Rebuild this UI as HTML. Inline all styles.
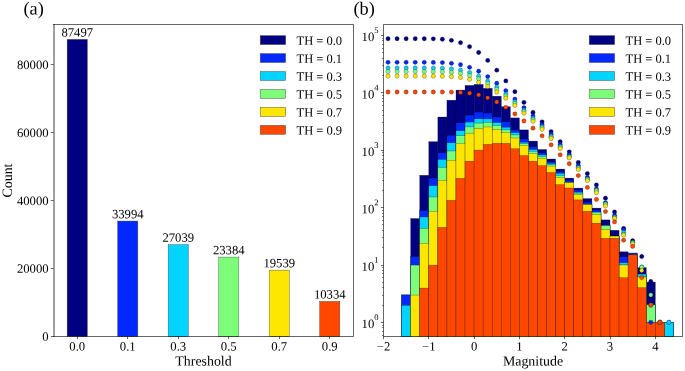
<!DOCTYPE html>
<html><head><meta charset="utf-8"><style>
html,body{margin:0;padding:0;background:#fff;width:685px;height:371px;overflow:hidden}
svg{display:block;will-change:transform}
text{font-family:"Liberation Serif", serif;fill:#000}
</style></head><body>
<svg width="685" height="371" viewBox="0 0 685 371">
<rect width="685" height="371" fill="#fff"/>
<rect x="67.14" y="39.36" width="20.2" height="297.14" fill="#000080" stroke="#444" stroke-width="0.4"/>
<text transform="translate(77.24,36.46) rotate(0.1)" font-size="12.7" text-anchor="middle">87497</text>
<rect x="117.64" y="221.06" width="20.2" height="115.44" fill="#0028ff" stroke="#444" stroke-width="0.4"/>
<text transform="translate(127.74,218.16) rotate(0.1)" font-size="12.7" text-anchor="middle">33994</text>
<rect x="168.15" y="244.67" width="20.2" height="91.83" fill="#00d4ff" stroke="#444" stroke-width="0.4"/>
<text transform="translate(178.25,241.77) rotate(0.1)" font-size="12.7" text-anchor="middle">27039</text>
<rect x="218.65" y="257.09" width="20.2" height="79.41" fill="#7dff7a" stroke="#444" stroke-width="0.4"/>
<text transform="translate(228.75,254.19) rotate(0.1)" font-size="12.7" text-anchor="middle">23384</text>
<rect x="269.16" y="270.14" width="20.2" height="66.36" fill="#ffe600" stroke="#444" stroke-width="0.4"/>
<text transform="translate(279.26,267.24) rotate(0.1)" font-size="12.7" text-anchor="middle">19539</text>
<rect x="319.66" y="301.41" width="20.2" height="35.09" fill="#ff4700" stroke="#444" stroke-width="0.4"/>
<text transform="translate(329.76,298.51) rotate(0.1)" font-size="12.7" text-anchor="middle">10334</text>
<path d="M53.5 24.5H353.5V336.5H53.5" fill="none" stroke="#000" stroke-opacity="0.6" stroke-width="1.0" stroke-linecap="square"/>
<line x1="54" y1="24.0" x2="54" y2="337.0" stroke="#000" stroke-opacity="0.75" stroke-width="1"/>
<line x1="50.9" y1="336.5" x2="53.5" y2="336.5" stroke="#000" stroke-opacity="0.6" stroke-width="1"/>
<text transform="translate(48.6,340.8) rotate(0.1)" font-size="12.7" text-anchor="end">0</text>
<line x1="50.9" y1="268.5" x2="53.5" y2="268.5" stroke="#000" stroke-opacity="0.6" stroke-width="1"/>
<text transform="translate(48.6,272.88) rotate(0.1)" font-size="12.7" text-anchor="end">20000</text>
<line x1="50.9" y1="200.5" x2="53.5" y2="200.5" stroke="#000" stroke-opacity="0.6" stroke-width="1"/>
<text transform="translate(48.6,204.96) rotate(0.1)" font-size="12.7" text-anchor="end">40000</text>
<line x1="50.9" y1="132.5" x2="53.5" y2="132.5" stroke="#000" stroke-opacity="0.6" stroke-width="1"/>
<text transform="translate(48.6,137.04) rotate(0.1)" font-size="12.7" text-anchor="end">60000</text>
<line x1="50.9" y1="64.5" x2="53.5" y2="64.5" stroke="#000" stroke-opacity="0.6" stroke-width="1"/>
<text transform="translate(48.6,69.12) rotate(0.1)" font-size="12.7" text-anchor="end">80000</text>
<line x1="77.5" y1="336.5" x2="77.5" y2="339.1" stroke="#000" stroke-opacity="0.6" stroke-width="1"/>
<text transform="translate(77.24,350.5) rotate(0.1)" font-size="12.7" text-anchor="middle">0.0</text>
<line x1="127.5" y1="336.5" x2="127.5" y2="339.1" stroke="#000" stroke-opacity="0.6" stroke-width="1"/>
<text transform="translate(127.74,350.5) rotate(0.1)" font-size="12.7" text-anchor="middle">0.1</text>
<line x1="178.5" y1="336.5" x2="178.5" y2="339.1" stroke="#000" stroke-opacity="0.6" stroke-width="1"/>
<text transform="translate(178.25,350.5) rotate(0.1)" font-size="12.7" text-anchor="middle">0.3</text>
<line x1="228.5" y1="336.5" x2="228.5" y2="339.1" stroke="#000" stroke-opacity="0.6" stroke-width="1"/>
<text transform="translate(228.75,350.5) rotate(0.1)" font-size="12.7" text-anchor="middle">0.5</text>
<line x1="279.5" y1="336.5" x2="279.5" y2="339.1" stroke="#000" stroke-opacity="0.6" stroke-width="1"/>
<text transform="translate(279.26,350.5) rotate(0.1)" font-size="12.7" text-anchor="middle">0.7</text>
<line x1="329.5" y1="336.5" x2="329.5" y2="339.1" stroke="#000" stroke-opacity="0.6" stroke-width="1"/>
<text transform="translate(329.76,350.5) rotate(0.1)" font-size="12.7" text-anchor="middle">0.9</text>
<text transform="translate(203.5,365.5) rotate(0.1)" font-size="13.9" text-anchor="middle">Threshold</text>
<text transform="translate(11.9,180.5) rotate(-89.9)" font-size="13.9" text-anchor="middle">Count</text>
<text transform="translate(23.5,14.5) rotate(0.1)" font-size="18.3">(a)</text>
<rect x="260.2" y="35.6" width="25.5" height="9.0" fill="#000080" stroke="#555" stroke-width="0.5"/>
<text transform="translate(296.5,44.7) rotate(0.1)" font-size="12.5">TH = 0.0</text>
<rect x="260.2" y="53.55" width="25.5" height="9.0" fill="#0028ff" stroke="#555" stroke-width="0.5"/>
<text transform="translate(296.5,62.65) rotate(0.1)" font-size="12.5">TH = 0.1</text>
<rect x="260.2" y="71.5" width="25.5" height="9.0" fill="#00d4ff" stroke="#555" stroke-width="0.5"/>
<text transform="translate(296.5,80.6) rotate(0.1)" font-size="12.5">TH = 0.3</text>
<rect x="260.2" y="89.45" width="25.5" height="9.0" fill="#7dff7a" stroke="#555" stroke-width="0.5"/>
<text transform="translate(296.5,98.55) rotate(0.1)" font-size="12.5">TH = 0.5</text>
<rect x="260.2" y="107.4" width="25.5" height="9.0" fill="#ffe600" stroke="#555" stroke-width="0.5"/>
<text transform="translate(296.5,116.5) rotate(0.1)" font-size="12.5">TH = 0.7</text>
<rect x="260.2" y="125.35" width="25.5" height="9.0" fill="#ff4700" stroke="#555" stroke-width="0.5"/>
<text transform="translate(296.5,134.45) rotate(0.1)" font-size="12.5">TH = 0.9</text>
<defs><clipPath id="cb"><rect x="383.5" y="24.5" width="299.0" height="312.0"/></clipPath></defs>
<g clip-path="url(#cb)">
<rect x="401.62" y="294.9" width="9.06" height="43.6" fill="#000080" stroke="#000" stroke-opacity="0.55" stroke-width="0.45"/>
<rect x="410.68" y="218.5" width="9.06" height="120" fill="#000080" stroke="#000" stroke-opacity="0.55" stroke-width="0.45"/>
<rect x="419.74" y="175.3" width="9.06" height="163.2" fill="#000080" stroke="#000" stroke-opacity="0.55" stroke-width="0.45"/>
<rect x="428.8" y="141.7" width="9.06" height="196.8" fill="#000080" stroke="#000" stroke-opacity="0.55" stroke-width="0.45"/>
<rect x="437.86" y="117" width="9.06" height="221.5" fill="#000080" stroke="#000" stroke-opacity="0.55" stroke-width="0.45"/>
<rect x="446.92" y="100.2" width="9.06" height="238.3" fill="#000080" stroke="#000" stroke-opacity="0.55" stroke-width="0.45"/>
<rect x="455.98" y="90.1" width="9.06" height="248.4" fill="#000080" stroke="#000" stroke-opacity="0.55" stroke-width="0.45"/>
<rect x="465.05" y="85.4" width="9.06" height="253.1" fill="#000080" stroke="#000" stroke-opacity="0.55" stroke-width="0.45"/>
<rect x="474.11" y="84.4" width="9.06" height="254.1" fill="#000080" stroke="#000" stroke-opacity="0.55" stroke-width="0.45"/>
<rect x="483.17" y="88.3" width="9.06" height="250.2" fill="#000080" stroke="#000" stroke-opacity="0.55" stroke-width="0.45"/>
<rect x="492.23" y="96.2" width="9.06" height="242.3" fill="#000080" stroke="#000" stroke-opacity="0.55" stroke-width="0.45"/>
<rect x="501.29" y="106.7" width="9.06" height="231.8" fill="#000080" stroke="#000" stroke-opacity="0.55" stroke-width="0.45"/>
<rect x="510.35" y="117.9" width="9.06" height="220.6" fill="#000080" stroke="#000" stroke-opacity="0.55" stroke-width="0.45"/>
<rect x="519.41" y="129.9" width="9.06" height="208.6" fill="#000080" stroke="#000" stroke-opacity="0.55" stroke-width="0.45"/>
<rect x="528.47" y="141.1" width="9.06" height="197.4" fill="#000080" stroke="#000" stroke-opacity="0.55" stroke-width="0.45"/>
<rect x="537.53" y="149.5" width="9.06" height="189" fill="#000080" stroke="#000" stroke-opacity="0.55" stroke-width="0.45"/>
<rect x="546.59" y="159" width="9.06" height="179.5" fill="#000080" stroke="#000" stroke-opacity="0.55" stroke-width="0.45"/>
<rect x="555.65" y="169.1" width="9.06" height="169.4" fill="#000080" stroke="#000" stroke-opacity="0.55" stroke-width="0.45"/>
<rect x="564.71" y="178.1" width="9.06" height="160.4" fill="#000080" stroke="#000" stroke-opacity="0.55" stroke-width="0.45"/>
<rect x="573.77" y="188.1" width="9.06" height="150.4" fill="#000080" stroke="#000" stroke-opacity="0.55" stroke-width="0.45"/>
<rect x="582.83" y="198.6" width="9.06" height="139.9" fill="#000080" stroke="#000" stroke-opacity="0.55" stroke-width="0.45"/>
<rect x="591.89" y="208.1" width="9.06" height="130.4" fill="#000080" stroke="#000" stroke-opacity="0.55" stroke-width="0.45"/>
<rect x="600.95" y="219.9" width="9.06" height="118.6" fill="#000080" stroke="#000" stroke-opacity="0.55" stroke-width="0.45"/>
<rect x="610.02" y="230.3" width="9.06" height="108.2" fill="#000080" stroke="#000" stroke-opacity="0.55" stroke-width="0.45"/>
<rect x="619.08" y="251.8" width="9.06" height="86.7" fill="#000080" stroke="#000" stroke-opacity="0.55" stroke-width="0.45"/>
<rect x="628.14" y="253.1" width="9.06" height="85.4" fill="#000080" stroke="#000" stroke-opacity="0.55" stroke-width="0.45"/>
<rect x="637.2" y="267.6" width="9.06" height="70.9" fill="#000080" stroke="#000" stroke-opacity="0.55" stroke-width="0.45"/>
<rect x="646.26" y="282.1" width="9.06" height="56.4" fill="#000080" stroke="#000" stroke-opacity="0.55" stroke-width="0.45"/>
<rect x="655.32" y="322.3" width="9.06" height="16.2" fill="#000080" stroke="#000" stroke-opacity="0.55" stroke-width="0.45"/>
<rect x="664.38" y="322.3" width="9.06" height="16.2" fill="#000080" stroke="#000" stroke-opacity="0.55" stroke-width="0.45"/>
<rect x="401.62" y="294.9" width="9.06" height="43.6" fill="#0028ff" stroke="#000" stroke-opacity="0.55" stroke-width="0.45"/>
<rect x="410.68" y="256.6" width="9.06" height="81.9" fill="#0028ff" stroke="#000" stroke-opacity="0.55" stroke-width="0.45"/>
<rect x="419.74" y="210.4" width="9.06" height="128.1" fill="#0028ff" stroke="#000" stroke-opacity="0.55" stroke-width="0.45"/>
<rect x="428.8" y="178.1" width="9.06" height="160.4" fill="#0028ff" stroke="#000" stroke-opacity="0.55" stroke-width="0.45"/>
<rect x="437.86" y="152.7" width="9.06" height="185.8" fill="#0028ff" stroke="#000" stroke-opacity="0.55" stroke-width="0.45"/>
<rect x="446.92" y="135.2" width="9.06" height="203.3" fill="#0028ff" stroke="#000" stroke-opacity="0.55" stroke-width="0.45"/>
<rect x="455.98" y="122.8" width="9.06" height="215.7" fill="#0028ff" stroke="#000" stroke-opacity="0.55" stroke-width="0.45"/>
<rect x="465.05" y="115.1" width="9.06" height="223.4" fill="#0028ff" stroke="#000" stroke-opacity="0.55" stroke-width="0.45"/>
<rect x="474.11" y="112.1" width="9.06" height="226.4" fill="#0028ff" stroke="#000" stroke-opacity="0.55" stroke-width="0.45"/>
<rect x="483.17" y="113" width="9.06" height="225.5" fill="#0028ff" stroke="#000" stroke-opacity="0.55" stroke-width="0.45"/>
<rect x="492.23" y="117" width="9.06" height="221.5" fill="#0028ff" stroke="#000" stroke-opacity="0.55" stroke-width="0.45"/>
<rect x="501.29" y="121.8" width="9.06" height="216.7" fill="#0028ff" stroke="#000" stroke-opacity="0.55" stroke-width="0.45"/>
<rect x="510.35" y="129.9" width="9.06" height="208.6" fill="#0028ff" stroke="#000" stroke-opacity="0.55" stroke-width="0.45"/>
<rect x="519.41" y="139" width="9.06" height="199.5" fill="#0028ff" stroke="#000" stroke-opacity="0.55" stroke-width="0.45"/>
<rect x="528.47" y="146.6" width="9.06" height="191.9" fill="#0028ff" stroke="#000" stroke-opacity="0.55" stroke-width="0.45"/>
<rect x="537.53" y="152.9" width="9.06" height="185.6" fill="#0028ff" stroke="#000" stroke-opacity="0.55" stroke-width="0.45"/>
<rect x="546.59" y="161.7" width="9.06" height="176.8" fill="#0028ff" stroke="#000" stroke-opacity="0.55" stroke-width="0.45"/>
<rect x="555.65" y="171.3" width="9.06" height="167.2" fill="#0028ff" stroke="#000" stroke-opacity="0.55" stroke-width="0.45"/>
<rect x="564.71" y="180.2" width="9.06" height="158.3" fill="#0028ff" stroke="#000" stroke-opacity="0.55" stroke-width="0.45"/>
<rect x="573.77" y="190" width="9.06" height="148.5" fill="#0028ff" stroke="#000" stroke-opacity="0.55" stroke-width="0.45"/>
<rect x="582.83" y="202.2" width="9.06" height="136.3" fill="#0028ff" stroke="#000" stroke-opacity="0.55" stroke-width="0.45"/>
<rect x="591.89" y="210" width="9.06" height="128.5" fill="#0028ff" stroke="#000" stroke-opacity="0.55" stroke-width="0.45"/>
<rect x="600.95" y="225.6" width="9.06" height="112.9" fill="#0028ff" stroke="#000" stroke-opacity="0.55" stroke-width="0.45"/>
<rect x="610.02" y="236.1" width="9.06" height="102.4" fill="#0028ff" stroke="#000" stroke-opacity="0.55" stroke-width="0.45"/>
<rect x="619.08" y="256.7" width="9.06" height="81.8" fill="#0028ff" stroke="#000" stroke-opacity="0.55" stroke-width="0.45"/>
<rect x="628.14" y="253.1" width="9.06" height="85.4" fill="#0028ff" stroke="#000" stroke-opacity="0.55" stroke-width="0.45"/>
<rect x="637.2" y="274.1" width="9.06" height="64.4" fill="#0028ff" stroke="#000" stroke-opacity="0.55" stroke-width="0.45"/>
<rect x="646.26" y="304.8" width="9.06" height="33.7" fill="#0028ff" stroke="#000" stroke-opacity="0.55" stroke-width="0.45"/>
<rect x="655.32" y="322.3" width="9.06" height="16.2" fill="#0028ff" stroke="#000" stroke-opacity="0.55" stroke-width="0.45"/>
<rect x="664.38" y="322.3" width="9.06" height="16.2" fill="#0028ff" stroke="#000" stroke-opacity="0.55" stroke-width="0.45"/>
<rect x="401.62" y="305.3" width="9.06" height="33.2" fill="#00d4ff" stroke="#000" stroke-opacity="0.55" stroke-width="0.45"/>
<rect x="410.68" y="265.1" width="9.06" height="73.4" fill="#00d4ff" stroke="#000" stroke-opacity="0.55" stroke-width="0.45"/>
<rect x="419.74" y="217" width="9.06" height="121.5" fill="#00d4ff" stroke="#000" stroke-opacity="0.55" stroke-width="0.45"/>
<rect x="428.8" y="185.7" width="9.06" height="152.8" fill="#00d4ff" stroke="#000" stroke-opacity="0.55" stroke-width="0.45"/>
<rect x="437.86" y="159.4" width="9.06" height="179.1" fill="#00d4ff" stroke="#000" stroke-opacity="0.55" stroke-width="0.45"/>
<rect x="446.92" y="142.8" width="9.06" height="195.7" fill="#00d4ff" stroke="#000" stroke-opacity="0.55" stroke-width="0.45"/>
<rect x="455.98" y="130.7" width="9.06" height="207.8" fill="#00d4ff" stroke="#000" stroke-opacity="0.55" stroke-width="0.45"/>
<rect x="465.05" y="122.1" width="9.06" height="216.4" fill="#00d4ff" stroke="#000" stroke-opacity="0.55" stroke-width="0.45"/>
<rect x="474.11" y="118.8" width="9.06" height="219.7" fill="#00d4ff" stroke="#000" stroke-opacity="0.55" stroke-width="0.45"/>
<rect x="483.17" y="118.9" width="9.06" height="219.6" fill="#00d4ff" stroke="#000" stroke-opacity="0.55" stroke-width="0.45"/>
<rect x="492.23" y="122.5" width="9.06" height="216" fill="#00d4ff" stroke="#000" stroke-opacity="0.55" stroke-width="0.45"/>
<rect x="501.29" y="127.2" width="9.06" height="211.3" fill="#00d4ff" stroke="#000" stroke-opacity="0.55" stroke-width="0.45"/>
<rect x="510.35" y="132.6" width="9.06" height="205.9" fill="#00d4ff" stroke="#000" stroke-opacity="0.55" stroke-width="0.45"/>
<rect x="519.41" y="142.2" width="9.06" height="196.3" fill="#00d4ff" stroke="#000" stroke-opacity="0.55" stroke-width="0.45"/>
<rect x="528.47" y="149.5" width="9.06" height="189" fill="#00d4ff" stroke="#000" stroke-opacity="0.55" stroke-width="0.45"/>
<rect x="537.53" y="154.9" width="9.06" height="183.6" fill="#00d4ff" stroke="#000" stroke-opacity="0.55" stroke-width="0.45"/>
<rect x="546.59" y="163.4" width="9.06" height="175.1" fill="#00d4ff" stroke="#000" stroke-opacity="0.55" stroke-width="0.45"/>
<rect x="555.65" y="173.3" width="9.06" height="165.2" fill="#00d4ff" stroke="#000" stroke-opacity="0.55" stroke-width="0.45"/>
<rect x="564.71" y="182.6" width="9.06" height="155.9" fill="#00d4ff" stroke="#000" stroke-opacity="0.55" stroke-width="0.45"/>
<rect x="573.77" y="192.1" width="9.06" height="146.4" fill="#00d4ff" stroke="#000" stroke-opacity="0.55" stroke-width="0.45"/>
<rect x="582.83" y="204.6" width="9.06" height="133.9" fill="#00d4ff" stroke="#000" stroke-opacity="0.55" stroke-width="0.45"/>
<rect x="591.89" y="212.2" width="9.06" height="126.3" fill="#00d4ff" stroke="#000" stroke-opacity="0.55" stroke-width="0.45"/>
<rect x="600.95" y="225.6" width="9.06" height="112.9" fill="#00d4ff" stroke="#000" stroke-opacity="0.55" stroke-width="0.45"/>
<rect x="610.02" y="236.1" width="9.06" height="102.4" fill="#00d4ff" stroke="#000" stroke-opacity="0.55" stroke-width="0.45"/>
<rect x="619.08" y="262.7" width="9.06" height="75.8" fill="#00d4ff" stroke="#000" stroke-opacity="0.55" stroke-width="0.45"/>
<rect x="628.14" y="254.9" width="9.06" height="83.6" fill="#00d4ff" stroke="#000" stroke-opacity="0.55" stroke-width="0.45"/>
<rect x="637.2" y="274.1" width="9.06" height="64.4" fill="#00d4ff" stroke="#000" stroke-opacity="0.55" stroke-width="0.45"/>
<rect x="646.26" y="304.8" width="9.06" height="33.7" fill="#00d4ff" stroke="#000" stroke-opacity="0.55" stroke-width="0.45"/>
<rect x="655.32" y="322.3" width="9.06" height="16.2" fill="#00d4ff" stroke="#000" stroke-opacity="0.55" stroke-width="0.45"/>
<rect x="664.38" y="322.3" width="9.06" height="16.2" fill="#00d4ff" stroke="#000" stroke-opacity="0.55" stroke-width="0.45"/>
<rect x="410.68" y="265.1" width="9.06" height="73.4" fill="#7dff7a" stroke="#000" stroke-opacity="0.55" stroke-width="0.45"/>
<rect x="419.74" y="228.3" width="9.06" height="110.2" fill="#7dff7a" stroke="#000" stroke-opacity="0.55" stroke-width="0.45"/>
<rect x="428.8" y="197" width="9.06" height="141.5" fill="#7dff7a" stroke="#000" stroke-opacity="0.55" stroke-width="0.45"/>
<rect x="437.86" y="167.3" width="9.06" height="171.2" fill="#7dff7a" stroke="#000" stroke-opacity="0.55" stroke-width="0.45"/>
<rect x="446.92" y="151" width="9.06" height="187.5" fill="#7dff7a" stroke="#000" stroke-opacity="0.55" stroke-width="0.45"/>
<rect x="455.98" y="135.7" width="9.06" height="202.8" fill="#7dff7a" stroke="#000" stroke-opacity="0.55" stroke-width="0.45"/>
<rect x="465.05" y="126.9" width="9.06" height="211.6" fill="#7dff7a" stroke="#000" stroke-opacity="0.55" stroke-width="0.45"/>
<rect x="474.11" y="123.1" width="9.06" height="215.4" fill="#7dff7a" stroke="#000" stroke-opacity="0.55" stroke-width="0.45"/>
<rect x="483.17" y="122.4" width="9.06" height="216.1" fill="#7dff7a" stroke="#000" stroke-opacity="0.55" stroke-width="0.45"/>
<rect x="492.23" y="125.5" width="9.06" height="213" fill="#7dff7a" stroke="#000" stroke-opacity="0.55" stroke-width="0.45"/>
<rect x="501.29" y="129.9" width="9.06" height="208.6" fill="#7dff7a" stroke="#000" stroke-opacity="0.55" stroke-width="0.45"/>
<rect x="510.35" y="134.9" width="9.06" height="203.6" fill="#7dff7a" stroke="#000" stroke-opacity="0.55" stroke-width="0.45"/>
<rect x="519.41" y="143.6" width="9.06" height="194.9" fill="#7dff7a" stroke="#000" stroke-opacity="0.55" stroke-width="0.45"/>
<rect x="528.47" y="151.4" width="9.06" height="187.1" fill="#7dff7a" stroke="#000" stroke-opacity="0.55" stroke-width="0.45"/>
<rect x="537.53" y="156.3" width="9.06" height="182.2" fill="#7dff7a" stroke="#000" stroke-opacity="0.55" stroke-width="0.45"/>
<rect x="546.59" y="164.8" width="9.06" height="173.7" fill="#7dff7a" stroke="#000" stroke-opacity="0.55" stroke-width="0.45"/>
<rect x="555.65" y="175.6" width="9.06" height="162.9" fill="#7dff7a" stroke="#000" stroke-opacity="0.55" stroke-width="0.45"/>
<rect x="564.71" y="182.6" width="9.06" height="155.9" fill="#7dff7a" stroke="#000" stroke-opacity="0.55" stroke-width="0.45"/>
<rect x="573.77" y="193.2" width="9.06" height="145.3" fill="#7dff7a" stroke="#000" stroke-opacity="0.55" stroke-width="0.45"/>
<rect x="582.83" y="204.6" width="9.06" height="133.9" fill="#7dff7a" stroke="#000" stroke-opacity="0.55" stroke-width="0.45"/>
<rect x="591.89" y="212.2" width="9.06" height="126.3" fill="#7dff7a" stroke="#000" stroke-opacity="0.55" stroke-width="0.45"/>
<rect x="600.95" y="225.6" width="9.06" height="112.9" fill="#7dff7a" stroke="#000" stroke-opacity="0.55" stroke-width="0.45"/>
<rect x="610.02" y="236.1" width="9.06" height="102.4" fill="#7dff7a" stroke="#000" stroke-opacity="0.55" stroke-width="0.45"/>
<rect x="619.08" y="265" width="9.06" height="73.5" fill="#7dff7a" stroke="#000" stroke-opacity="0.55" stroke-width="0.45"/>
<rect x="628.14" y="254.9" width="9.06" height="83.6" fill="#7dff7a" stroke="#000" stroke-opacity="0.55" stroke-width="0.45"/>
<rect x="637.2" y="276.9" width="9.06" height="61.6" fill="#7dff7a" stroke="#000" stroke-opacity="0.55" stroke-width="0.45"/>
<rect x="646.26" y="304.8" width="9.06" height="33.7" fill="#7dff7a" stroke="#000" stroke-opacity="0.55" stroke-width="0.45"/>
<rect x="655.32" y="322.3" width="9.06" height="16.2" fill="#7dff7a" stroke="#000" stroke-opacity="0.55" stroke-width="0.45"/>
<rect x="410.68" y="295.1" width="9.06" height="43.4" fill="#ffe600" stroke="#000" stroke-opacity="0.55" stroke-width="0.45"/>
<rect x="419.74" y="243.4" width="9.06" height="95.1" fill="#ffe600" stroke="#000" stroke-opacity="0.55" stroke-width="0.45"/>
<rect x="428.8" y="211.3" width="9.06" height="127.2" fill="#ffe600" stroke="#000" stroke-opacity="0.55" stroke-width="0.45"/>
<rect x="437.86" y="180.5" width="9.06" height="158" fill="#ffe600" stroke="#000" stroke-opacity="0.55" stroke-width="0.45"/>
<rect x="446.92" y="160.3" width="9.06" height="178.2" fill="#ffe600" stroke="#000" stroke-opacity="0.55" stroke-width="0.45"/>
<rect x="455.98" y="143.8" width="9.06" height="194.7" fill="#ffe600" stroke="#000" stroke-opacity="0.55" stroke-width="0.45"/>
<rect x="465.05" y="133.2" width="9.06" height="205.3" fill="#ffe600" stroke="#000" stroke-opacity="0.55" stroke-width="0.45"/>
<rect x="474.11" y="128.5" width="9.06" height="210" fill="#ffe600" stroke="#000" stroke-opacity="0.55" stroke-width="0.45"/>
<rect x="483.17" y="127" width="9.06" height="211.5" fill="#ffe600" stroke="#000" stroke-opacity="0.55" stroke-width="0.45"/>
<rect x="492.23" y="129.4" width="9.06" height="209.1" fill="#ffe600" stroke="#000" stroke-opacity="0.55" stroke-width="0.45"/>
<rect x="501.29" y="132.6" width="9.06" height="205.9" fill="#ffe600" stroke="#000" stroke-opacity="0.55" stroke-width="0.45"/>
<rect x="510.35" y="138" width="9.06" height="200.5" fill="#ffe600" stroke="#000" stroke-opacity="0.55" stroke-width="0.45"/>
<rect x="519.41" y="145.4" width="9.06" height="193.1" fill="#ffe600" stroke="#000" stroke-opacity="0.55" stroke-width="0.45"/>
<rect x="528.47" y="153.6" width="9.06" height="184.9" fill="#ffe600" stroke="#000" stroke-opacity="0.55" stroke-width="0.45"/>
<rect x="537.53" y="158.3" width="9.06" height="180.2" fill="#ffe600" stroke="#000" stroke-opacity="0.55" stroke-width="0.45"/>
<rect x="546.59" y="166.1" width="9.06" height="172.4" fill="#ffe600" stroke="#000" stroke-opacity="0.55" stroke-width="0.45"/>
<rect x="555.65" y="177.6" width="9.06" height="160.9" fill="#ffe600" stroke="#000" stroke-opacity="0.55" stroke-width="0.45"/>
<rect x="564.71" y="182.6" width="9.06" height="155.9" fill="#ffe600" stroke="#000" stroke-opacity="0.55" stroke-width="0.45"/>
<rect x="573.77" y="194.8" width="9.06" height="143.7" fill="#ffe600" stroke="#000" stroke-opacity="0.55" stroke-width="0.45"/>
<rect x="582.83" y="204.6" width="9.06" height="133.9" fill="#ffe600" stroke="#000" stroke-opacity="0.55" stroke-width="0.45"/>
<rect x="591.89" y="214.7" width="9.06" height="123.8" fill="#ffe600" stroke="#000" stroke-opacity="0.55" stroke-width="0.45"/>
<rect x="600.95" y="229.3" width="9.06" height="109.2" fill="#ffe600" stroke="#000" stroke-opacity="0.55" stroke-width="0.45"/>
<rect x="610.02" y="236.1" width="9.06" height="102.4" fill="#ffe600" stroke="#000" stroke-opacity="0.55" stroke-width="0.45"/>
<rect x="619.08" y="265" width="9.06" height="73.5" fill="#ffe600" stroke="#000" stroke-opacity="0.55" stroke-width="0.45"/>
<rect x="628.14" y="254.9" width="9.06" height="83.6" fill="#ffe600" stroke="#000" stroke-opacity="0.55" stroke-width="0.45"/>
<rect x="637.2" y="276.9" width="9.06" height="61.6" fill="#ffe600" stroke="#000" stroke-opacity="0.55" stroke-width="0.45"/>
<rect x="646.26" y="322.3" width="9.06" height="16.2" fill="#ffe600" stroke="#000" stroke-opacity="0.55" stroke-width="0.45"/>
<rect x="655.32" y="322.3" width="9.06" height="16.2" fill="#ffe600" stroke="#000" stroke-opacity="0.55" stroke-width="0.45"/>
<rect x="419.74" y="288.1" width="9.06" height="50.4" fill="#ff4700" stroke="#000" stroke-opacity="0.55" stroke-width="0.45"/>
<rect x="428.8" y="265.1" width="9.06" height="73.4" fill="#ff4700" stroke="#000" stroke-opacity="0.55" stroke-width="0.45"/>
<rect x="437.86" y="227.4" width="9.06" height="111.1" fill="#ff4700" stroke="#000" stroke-opacity="0.55" stroke-width="0.45"/>
<rect x="446.92" y="200.4" width="9.06" height="138.1" fill="#ff4700" stroke="#000" stroke-opacity="0.55" stroke-width="0.45"/>
<rect x="455.98" y="178.4" width="9.06" height="160.1" fill="#ff4700" stroke="#000" stroke-opacity="0.55" stroke-width="0.45"/>
<rect x="465.05" y="161.2" width="9.06" height="177.3" fill="#ff4700" stroke="#000" stroke-opacity="0.55" stroke-width="0.45"/>
<rect x="474.11" y="150.1" width="9.06" height="188.4" fill="#ff4700" stroke="#000" stroke-opacity="0.55" stroke-width="0.45"/>
<rect x="483.17" y="144.4" width="9.06" height="194.1" fill="#ff4700" stroke="#000" stroke-opacity="0.55" stroke-width="0.45"/>
<rect x="492.23" y="143.4" width="9.06" height="195.1" fill="#ff4700" stroke="#000" stroke-opacity="0.55" stroke-width="0.45"/>
<rect x="501.29" y="143.4" width="9.06" height="195.1" fill="#ff4700" stroke="#000" stroke-opacity="0.55" stroke-width="0.45"/>
<rect x="510.35" y="148.8" width="9.06" height="189.7" fill="#ff4700" stroke="#000" stroke-opacity="0.55" stroke-width="0.45"/>
<rect x="519.41" y="155.6" width="9.06" height="182.9" fill="#ff4700" stroke="#000" stroke-opacity="0.55" stroke-width="0.45"/>
<rect x="528.47" y="161.3" width="9.06" height="177.2" fill="#ff4700" stroke="#000" stroke-opacity="0.55" stroke-width="0.45"/>
<rect x="537.53" y="165.7" width="9.06" height="172.8" fill="#ff4700" stroke="#000" stroke-opacity="0.55" stroke-width="0.45"/>
<rect x="546.59" y="172.5" width="9.06" height="166" fill="#ff4700" stroke="#000" stroke-opacity="0.55" stroke-width="0.45"/>
<rect x="555.65" y="184.7" width="9.06" height="153.8" fill="#ff4700" stroke="#000" stroke-opacity="0.55" stroke-width="0.45"/>
<rect x="564.71" y="188" width="9.06" height="150.5" fill="#ff4700" stroke="#000" stroke-opacity="0.55" stroke-width="0.45"/>
<rect x="573.77" y="199.9" width="9.06" height="138.6" fill="#ff4700" stroke="#000" stroke-opacity="0.55" stroke-width="0.45"/>
<rect x="582.83" y="211.3" width="9.06" height="127.2" fill="#ff4700" stroke="#000" stroke-opacity="0.55" stroke-width="0.45"/>
<rect x="591.89" y="223.2" width="9.06" height="115.3" fill="#ff4700" stroke="#000" stroke-opacity="0.55" stroke-width="0.45"/>
<rect x="600.95" y="238.4" width="9.06" height="100.1" fill="#ff4700" stroke="#000" stroke-opacity="0.55" stroke-width="0.45"/>
<rect x="610.02" y="238.3" width="9.06" height="100.2" fill="#ff4700" stroke="#000" stroke-opacity="0.55" stroke-width="0.45"/>
<rect x="619.08" y="277.7" width="9.06" height="60.8" fill="#ff4700" stroke="#000" stroke-opacity="0.55" stroke-width="0.45"/>
<rect x="628.14" y="254.9" width="9.06" height="83.6" fill="#ff4700" stroke="#000" stroke-opacity="0.55" stroke-width="0.45"/>
<rect x="637.2" y="287.7" width="9.06" height="50.8" fill="#ff4700" stroke="#000" stroke-opacity="0.55" stroke-width="0.45"/>
<rect x="646.26" y="322.3" width="9.06" height="16.2" fill="#ff4700" stroke="#000" stroke-opacity="0.55" stroke-width="0.45"/>
<rect x="655.32" y="322.3" width="9.06" height="16.2" fill="#ff4700" stroke="#000" stroke-opacity="0.55" stroke-width="0.45"/>
<circle cx="388.03" cy="38.73" r="2.15" fill="#000080" stroke="#000" stroke-opacity="0.6" stroke-width="0.45"/>
<circle cx="397.09" cy="38.73" r="2.15" fill="#000080" stroke="#000" stroke-opacity="0.6" stroke-width="0.45"/>
<circle cx="406.15" cy="38.73" r="2.15" fill="#000080" stroke="#000" stroke-opacity="0.6" stroke-width="0.45"/>
<circle cx="415.21" cy="38.73" r="2.15" fill="#000080" stroke="#000" stroke-opacity="0.6" stroke-width="0.45"/>
<circle cx="424.27" cy="38.75" r="2.15" fill="#000080" stroke="#000" stroke-opacity="0.6" stroke-width="0.45"/>
<circle cx="433.33" cy="38.85" r="2.15" fill="#000080" stroke="#000" stroke-opacity="0.6" stroke-width="0.45"/>
<circle cx="442.39" cy="39.25" r="2.15" fill="#000080" stroke="#000" stroke-opacity="0.6" stroke-width="0.45"/>
<circle cx="451.45" cy="40.37" r="2.15" fill="#000080" stroke="#000" stroke-opacity="0.6" stroke-width="0.45"/>
<circle cx="460.52" cy="42.71" r="2.15" fill="#000080" stroke="#000" stroke-opacity="0.6" stroke-width="0.45"/>
<circle cx="469.58" cy="46.66" r="2.15" fill="#000080" stroke="#000" stroke-opacity="0.6" stroke-width="0.45"/>
<circle cx="478.64" cy="52.48" r="2.15" fill="#000080" stroke="#000" stroke-opacity="0.6" stroke-width="0.45"/>
<circle cx="487.7" cy="60.47" r="2.15" fill="#000080" stroke="#000" stroke-opacity="0.6" stroke-width="0.45"/>
<circle cx="496.76" cy="70.22" r="2.15" fill="#000080" stroke="#000" stroke-opacity="0.6" stroke-width="0.45"/>
<circle cx="505.82" cy="80.93" r="2.15" fill="#000080" stroke="#000" stroke-opacity="0.6" stroke-width="0.45"/>
<circle cx="514.88" cy="91.76" r="2.15" fill="#000080" stroke="#000" stroke-opacity="0.6" stroke-width="0.45"/>
<circle cx="523.94" cy="102.41" r="2.15" fill="#000080" stroke="#000" stroke-opacity="0.6" stroke-width="0.45"/>
<circle cx="533" cy="112.38" r="2.15" fill="#000080" stroke="#000" stroke-opacity="0.6" stroke-width="0.45"/>
<circle cx="542.06" cy="121.78" r="2.15" fill="#000080" stroke="#000" stroke-opacity="0.6" stroke-width="0.45"/>
<circle cx="551.12" cy="131.66" r="2.15" fill="#000080" stroke="#000" stroke-opacity="0.6" stroke-width="0.45"/>
<circle cx="560.18" cy="141.74" r="2.15" fill="#000080" stroke="#000" stroke-opacity="0.6" stroke-width="0.45"/>
<circle cx="569.24" cy="151.82" r="2.15" fill="#000080" stroke="#000" stroke-opacity="0.6" stroke-width="0.45"/>
<circle cx="578.3" cy="162.5" r="2.15" fill="#000080" stroke="#000" stroke-opacity="0.6" stroke-width="0.45"/>
<circle cx="587.36" cy="173.55" r="2.15" fill="#000080" stroke="#000" stroke-opacity="0.6" stroke-width="0.45"/>
<circle cx="596.42" cy="184.91" r="2.15" fill="#000080" stroke="#000" stroke-opacity="0.6" stroke-width="0.45"/>
<circle cx="605.48" cy="198.2" r="2.15" fill="#000080" stroke="#000" stroke-opacity="0.6" stroke-width="0.45"/>
<circle cx="614.55" cy="212" r="2.15" fill="#000080" stroke="#000" stroke-opacity="0.6" stroke-width="0.45"/>
<circle cx="623.61" cy="228.3" r="2.15" fill="#000080" stroke="#000" stroke-opacity="0.6" stroke-width="0.45"/>
<circle cx="632.67" cy="240.7" r="2.15" fill="#000080" stroke="#000" stroke-opacity="0.6" stroke-width="0.45"/>
<circle cx="641.73" cy="256.5" r="2.15" fill="#000080" stroke="#000" stroke-opacity="0.6" stroke-width="0.45"/>
<circle cx="650.79" cy="281.5" r="2.15" fill="#000080" stroke="#000" stroke-opacity="0.6" stroke-width="0.45"/>
<circle cx="388.03" cy="62.3" r="2.15" fill="#0028ff" stroke="#000" stroke-opacity="0.6" stroke-width="0.45"/>
<circle cx="397.09" cy="62.3" r="2.15" fill="#0028ff" stroke="#000" stroke-opacity="0.6" stroke-width="0.45"/>
<circle cx="406.15" cy="62.3" r="2.15" fill="#0028ff" stroke="#000" stroke-opacity="0.6" stroke-width="0.45"/>
<circle cx="415.21" cy="62.3" r="2.15" fill="#0028ff" stroke="#000" stroke-opacity="0.6" stroke-width="0.45"/>
<circle cx="424.27" cy="62.31" r="2.15" fill="#0028ff" stroke="#000" stroke-opacity="0.6" stroke-width="0.45"/>
<circle cx="433.33" cy="62.38" r="2.15" fill="#0028ff" stroke="#000" stroke-opacity="0.6" stroke-width="0.45"/>
<circle cx="442.39" cy="62.62" r="2.15" fill="#0028ff" stroke="#000" stroke-opacity="0.6" stroke-width="0.45"/>
<circle cx="451.45" cy="63.3" r="2.15" fill="#0028ff" stroke="#000" stroke-opacity="0.6" stroke-width="0.45"/>
<circle cx="460.52" cy="64.73" r="2.15" fill="#0028ff" stroke="#000" stroke-opacity="0.6" stroke-width="0.45"/>
<circle cx="469.58" cy="67.28" r="2.15" fill="#0028ff" stroke="#000" stroke-opacity="0.6" stroke-width="0.45"/>
<circle cx="478.64" cy="71.24" r="2.15" fill="#0028ff" stroke="#000" stroke-opacity="0.6" stroke-width="0.45"/>
<circle cx="487.7" cy="76.62" r="2.15" fill="#0028ff" stroke="#000" stroke-opacity="0.6" stroke-width="0.45"/>
<circle cx="496.76" cy="83.22" r="2.15" fill="#0028ff" stroke="#000" stroke-opacity="0.6" stroke-width="0.45"/>
<circle cx="505.82" cy="90.65" r="2.15" fill="#0028ff" stroke="#000" stroke-opacity="0.6" stroke-width="0.45"/>
<circle cx="514.88" cy="99.07" r="2.15" fill="#0028ff" stroke="#000" stroke-opacity="0.6" stroke-width="0.45"/>
<circle cx="523.94" cy="107.62" r="2.15" fill="#0028ff" stroke="#000" stroke-opacity="0.6" stroke-width="0.45"/>
<circle cx="533" cy="115.95" r="2.15" fill="#0028ff" stroke="#000" stroke-opacity="0.6" stroke-width="0.45"/>
<circle cx="542.06" cy="124.57" r="2.15" fill="#0028ff" stroke="#000" stroke-opacity="0.6" stroke-width="0.45"/>
<circle cx="551.12" cy="134.22" r="2.15" fill="#0028ff" stroke="#000" stroke-opacity="0.6" stroke-width="0.45"/>
<circle cx="560.18" cy="144.28" r="2.15" fill="#0028ff" stroke="#000" stroke-opacity="0.6" stroke-width="0.45"/>
<circle cx="569.24" cy="154.57" r="2.15" fill="#0028ff" stroke="#000" stroke-opacity="0.6" stroke-width="0.45"/>
<circle cx="578.3" cy="165.6" r="2.15" fill="#0028ff" stroke="#000" stroke-opacity="0.6" stroke-width="0.45"/>
<circle cx="587.36" cy="177.35" r="2.15" fill="#0028ff" stroke="#000" stroke-opacity="0.6" stroke-width="0.45"/>
<circle cx="596.42" cy="188.83" r="2.15" fill="#0028ff" stroke="#000" stroke-opacity="0.6" stroke-width="0.45"/>
<circle cx="605.48" cy="202.75" r="2.15" fill="#0028ff" stroke="#000" stroke-opacity="0.6" stroke-width="0.45"/>
<circle cx="614.55" cy="215.47" r="2.15" fill="#0028ff" stroke="#000" stroke-opacity="0.6" stroke-width="0.45"/>
<circle cx="623.61" cy="229.8" r="2.15" fill="#0028ff" stroke="#000" stroke-opacity="0.6" stroke-width="0.45"/>
<circle cx="632.67" cy="242.3" r="2.15" fill="#0028ff" stroke="#000" stroke-opacity="0.6" stroke-width="0.45"/>
<circle cx="641.73" cy="267.2" r="2.15" fill="#0028ff" stroke="#000" stroke-opacity="0.6" stroke-width="0.45"/>
<circle cx="650.79" cy="322.3" r="2.15" fill="#0028ff" stroke="#000" stroke-opacity="0.6" stroke-width="0.45"/>
<circle cx="659.85" cy="322.3" r="2.15" fill="#0028ff" stroke="#000" stroke-opacity="0.6" stroke-width="0.45"/>
<circle cx="668.91" cy="322.3" r="2.15" fill="#0028ff" stroke="#000" stroke-opacity="0.6" stroke-width="0.45"/>
<circle cx="388.03" cy="68" r="2.15" fill="#00d4ff" stroke="#000" stroke-opacity="0.6" stroke-width="0.45"/>
<circle cx="397.09" cy="68" r="2.15" fill="#00d4ff" stroke="#000" stroke-opacity="0.6" stroke-width="0.45"/>
<circle cx="406.15" cy="68" r="2.15" fill="#00d4ff" stroke="#000" stroke-opacity="0.6" stroke-width="0.45"/>
<circle cx="415.21" cy="68.01" r="2.15" fill="#00d4ff" stroke="#000" stroke-opacity="0.6" stroke-width="0.45"/>
<circle cx="424.27" cy="68.01" r="2.15" fill="#00d4ff" stroke="#000" stroke-opacity="0.6" stroke-width="0.45"/>
<circle cx="433.33" cy="68.08" r="2.15" fill="#00d4ff" stroke="#000" stroke-opacity="0.6" stroke-width="0.45"/>
<circle cx="442.39" cy="68.3" r="2.15" fill="#00d4ff" stroke="#000" stroke-opacity="0.6" stroke-width="0.45"/>
<circle cx="451.45" cy="68.95" r="2.15" fill="#00d4ff" stroke="#000" stroke-opacity="0.6" stroke-width="0.45"/>
<circle cx="460.52" cy="70.26" r="2.15" fill="#00d4ff" stroke="#000" stroke-opacity="0.6" stroke-width="0.45"/>
<circle cx="469.58" cy="72.54" r="2.15" fill="#00d4ff" stroke="#000" stroke-opacity="0.6" stroke-width="0.45"/>
<circle cx="478.64" cy="76.17" r="2.15" fill="#00d4ff" stroke="#000" stroke-opacity="0.6" stroke-width="0.45"/>
<circle cx="487.7" cy="81.09" r="2.15" fill="#00d4ff" stroke="#000" stroke-opacity="0.6" stroke-width="0.45"/>
<circle cx="496.76" cy="87.22" r="2.15" fill="#00d4ff" stroke="#000" stroke-opacity="0.6" stroke-width="0.45"/>
<circle cx="505.82" cy="94.1" r="2.15" fill="#00d4ff" stroke="#000" stroke-opacity="0.6" stroke-width="0.45"/>
<circle cx="514.88" cy="101.72" r="2.15" fill="#00d4ff" stroke="#000" stroke-opacity="0.6" stroke-width="0.45"/>
<circle cx="523.94" cy="110.2" r="2.15" fill="#00d4ff" stroke="#000" stroke-opacity="0.6" stroke-width="0.45"/>
<circle cx="533" cy="118.24" r="2.15" fill="#00d4ff" stroke="#000" stroke-opacity="0.6" stroke-width="0.45"/>
<circle cx="542.06" cy="126.57" r="2.15" fill="#00d4ff" stroke="#000" stroke-opacity="0.6" stroke-width="0.45"/>
<circle cx="551.12" cy="136.18" r="2.15" fill="#00d4ff" stroke="#000" stroke-opacity="0.6" stroke-width="0.45"/>
<circle cx="560.18" cy="146.34" r="2.15" fill="#00d4ff" stroke="#000" stroke-opacity="0.6" stroke-width="0.45"/>
<circle cx="569.24" cy="156.65" r="2.15" fill="#00d4ff" stroke="#000" stroke-opacity="0.6" stroke-width="0.45"/>
<circle cx="578.3" cy="167.5" r="2.15" fill="#00d4ff" stroke="#000" stroke-opacity="0.6" stroke-width="0.45"/>
<circle cx="587.36" cy="179.13" r="2.15" fill="#00d4ff" stroke="#000" stroke-opacity="0.6" stroke-width="0.45"/>
<circle cx="596.42" cy="190.25" r="2.15" fill="#00d4ff" stroke="#000" stroke-opacity="0.6" stroke-width="0.45"/>
<circle cx="605.48" cy="203.6" r="2.15" fill="#00d4ff" stroke="#000" stroke-opacity="0.6" stroke-width="0.45"/>
<circle cx="614.55" cy="216.92" r="2.15" fill="#00d4ff" stroke="#000" stroke-opacity="0.6" stroke-width="0.45"/>
<circle cx="623.61" cy="232.43" r="2.15" fill="#00d4ff" stroke="#000" stroke-opacity="0.6" stroke-width="0.45"/>
<circle cx="632.67" cy="242.3" r="2.15" fill="#00d4ff" stroke="#000" stroke-opacity="0.6" stroke-width="0.45"/>
<circle cx="641.73" cy="267.2" r="2.15" fill="#00d4ff" stroke="#000" stroke-opacity="0.6" stroke-width="0.45"/>
<circle cx="650.79" cy="305" r="2.15" fill="#00d4ff" stroke="#000" stroke-opacity="0.6" stroke-width="0.45"/>
<circle cx="659.85" cy="322.3" r="2.15" fill="#00d4ff" stroke="#000" stroke-opacity="0.6" stroke-width="0.45"/>
<circle cx="668.91" cy="322.3" r="2.15" fill="#00d4ff" stroke="#000" stroke-opacity="0.6" stroke-width="0.45"/>
<circle cx="388.03" cy="71.62" r="2.15" fill="#7dff7a" stroke="#000" stroke-opacity="0.6" stroke-width="0.45"/>
<circle cx="397.09" cy="71.62" r="2.15" fill="#7dff7a" stroke="#000" stroke-opacity="0.6" stroke-width="0.45"/>
<circle cx="406.15" cy="71.62" r="2.15" fill="#7dff7a" stroke="#000" stroke-opacity="0.6" stroke-width="0.45"/>
<circle cx="415.21" cy="71.62" r="2.15" fill="#7dff7a" stroke="#000" stroke-opacity="0.6" stroke-width="0.45"/>
<circle cx="424.27" cy="71.63" r="2.15" fill="#7dff7a" stroke="#000" stroke-opacity="0.6" stroke-width="0.45"/>
<circle cx="433.33" cy="71.68" r="2.15" fill="#7dff7a" stroke="#000" stroke-opacity="0.6" stroke-width="0.45"/>
<circle cx="442.39" cy="71.84" r="2.15" fill="#7dff7a" stroke="#000" stroke-opacity="0.6" stroke-width="0.45"/>
<circle cx="451.45" cy="72.39" r="2.15" fill="#7dff7a" stroke="#000" stroke-opacity="0.6" stroke-width="0.45"/>
<circle cx="460.52" cy="73.47" r="2.15" fill="#7dff7a" stroke="#000" stroke-opacity="0.6" stroke-width="0.45"/>
<circle cx="469.58" cy="75.58" r="2.15" fill="#7dff7a" stroke="#000" stroke-opacity="0.6" stroke-width="0.45"/>
<circle cx="478.64" cy="78.95" r="2.15" fill="#7dff7a" stroke="#000" stroke-opacity="0.6" stroke-width="0.45"/>
<circle cx="487.7" cy="83.55" r="2.15" fill="#7dff7a" stroke="#000" stroke-opacity="0.6" stroke-width="0.45"/>
<circle cx="496.76" cy="89.39" r="2.15" fill="#7dff7a" stroke="#000" stroke-opacity="0.6" stroke-width="0.45"/>
<circle cx="505.82" cy="96.02" r="2.15" fill="#7dff7a" stroke="#000" stroke-opacity="0.6" stroke-width="0.45"/>
<circle cx="514.88" cy="103.37" r="2.15" fill="#7dff7a" stroke="#000" stroke-opacity="0.6" stroke-width="0.45"/>
<circle cx="523.94" cy="111.6" r="2.15" fill="#7dff7a" stroke="#000" stroke-opacity="0.6" stroke-width="0.45"/>
<circle cx="533" cy="119.64" r="2.15" fill="#7dff7a" stroke="#000" stroke-opacity="0.6" stroke-width="0.45"/>
<circle cx="542.06" cy="127.78" r="2.15" fill="#7dff7a" stroke="#000" stroke-opacity="0.6" stroke-width="0.45"/>
<circle cx="551.12" cy="137.31" r="2.15" fill="#7dff7a" stroke="#000" stroke-opacity="0.6" stroke-width="0.45"/>
<circle cx="560.18" cy="147.34" r="2.15" fill="#7dff7a" stroke="#000" stroke-opacity="0.6" stroke-width="0.45"/>
<circle cx="569.24" cy="156.99" r="2.15" fill="#7dff7a" stroke="#000" stroke-opacity="0.6" stroke-width="0.45"/>
<circle cx="578.3" cy="168.04" r="2.15" fill="#7dff7a" stroke="#000" stroke-opacity="0.6" stroke-width="0.45"/>
<circle cx="587.36" cy="179.35" r="2.15" fill="#7dff7a" stroke="#000" stroke-opacity="0.6" stroke-width="0.45"/>
<circle cx="596.42" cy="190.59" r="2.15" fill="#7dff7a" stroke="#000" stroke-opacity="0.6" stroke-width="0.45"/>
<circle cx="605.48" cy="204.19" r="2.15" fill="#7dff7a" stroke="#000" stroke-opacity="0.6" stroke-width="0.45"/>
<circle cx="614.55" cy="217.92" r="2.15" fill="#7dff7a" stroke="#000" stroke-opacity="0.6" stroke-width="0.45"/>
<circle cx="623.61" cy="234.33" r="2.15" fill="#7dff7a" stroke="#000" stroke-opacity="0.6" stroke-width="0.45"/>
<circle cx="632.67" cy="242.94" r="2.15" fill="#7dff7a" stroke="#000" stroke-opacity="0.6" stroke-width="0.45"/>
<circle cx="641.73" cy="267.2" r="2.15" fill="#7dff7a" stroke="#000" stroke-opacity="0.6" stroke-width="0.45"/>
<circle cx="650.79" cy="295" r="2.15" fill="#7dff7a" stroke="#000" stroke-opacity="0.6" stroke-width="0.45"/>
<circle cx="659.85" cy="322.3" r="2.15" fill="#7dff7a" stroke="#000" stroke-opacity="0.6" stroke-width="0.45"/>
<circle cx="388.03" cy="76.1" r="2.15" fill="#ffe600" stroke="#000" stroke-opacity="0.6" stroke-width="0.45"/>
<circle cx="397.09" cy="76.1" r="2.15" fill="#ffe600" stroke="#000" stroke-opacity="0.6" stroke-width="0.45"/>
<circle cx="406.15" cy="76.1" r="2.15" fill="#ffe600" stroke="#000" stroke-opacity="0.6" stroke-width="0.45"/>
<circle cx="415.21" cy="76.1" r="2.15" fill="#ffe600" stroke="#000" stroke-opacity="0.6" stroke-width="0.45"/>
<circle cx="424.27" cy="76.11" r="2.15" fill="#ffe600" stroke="#000" stroke-opacity="0.6" stroke-width="0.45"/>
<circle cx="433.33" cy="76.14" r="2.15" fill="#ffe600" stroke="#000" stroke-opacity="0.6" stroke-width="0.45"/>
<circle cx="442.39" cy="76.25" r="2.15" fill="#ffe600" stroke="#000" stroke-opacity="0.6" stroke-width="0.45"/>
<circle cx="451.45" cy="76.63" r="2.15" fill="#ffe600" stroke="#000" stroke-opacity="0.6" stroke-width="0.45"/>
<circle cx="460.52" cy="77.51" r="2.15" fill="#ffe600" stroke="#000" stroke-opacity="0.6" stroke-width="0.45"/>
<circle cx="469.58" cy="79.3" r="2.15" fill="#ffe600" stroke="#000" stroke-opacity="0.6" stroke-width="0.45"/>
<circle cx="478.64" cy="82.32" r="2.15" fill="#ffe600" stroke="#000" stroke-opacity="0.6" stroke-width="0.45"/>
<circle cx="487.7" cy="86.54" r="2.15" fill="#ffe600" stroke="#000" stroke-opacity="0.6" stroke-width="0.45"/>
<circle cx="496.76" cy="91.99" r="2.15" fill="#ffe600" stroke="#000" stroke-opacity="0.6" stroke-width="0.45"/>
<circle cx="505.82" cy="98.25" r="2.15" fill="#ffe600" stroke="#000" stroke-opacity="0.6" stroke-width="0.45"/>
<circle cx="514.88" cy="105.45" r="2.15" fill="#ffe600" stroke="#000" stroke-opacity="0.6" stroke-width="0.45"/>
<circle cx="523.94" cy="113.3" r="2.15" fill="#ffe600" stroke="#000" stroke-opacity="0.6" stroke-width="0.45"/>
<circle cx="533" cy="121.31" r="2.15" fill="#ffe600" stroke="#000" stroke-opacity="0.6" stroke-width="0.45"/>
<circle cx="542.06" cy="129.26" r="2.15" fill="#ffe600" stroke="#000" stroke-opacity="0.6" stroke-width="0.45"/>
<circle cx="551.12" cy="138.56" r="2.15" fill="#ffe600" stroke="#000" stroke-opacity="0.6" stroke-width="0.45"/>
<circle cx="560.18" cy="148.57" r="2.15" fill="#ffe600" stroke="#000" stroke-opacity="0.6" stroke-width="0.45"/>
<circle cx="569.24" cy="157.89" r="2.15" fill="#ffe600" stroke="#000" stroke-opacity="0.6" stroke-width="0.45"/>
<circle cx="578.3" cy="169.45" r="2.15" fill="#ffe600" stroke="#000" stroke-opacity="0.6" stroke-width="0.45"/>
<circle cx="587.36" cy="180.64" r="2.15" fill="#ffe600" stroke="#000" stroke-opacity="0.6" stroke-width="0.45"/>
<circle cx="596.42" cy="192.65" r="2.15" fill="#ffe600" stroke="#000" stroke-opacity="0.6" stroke-width="0.45"/>
<circle cx="605.48" cy="205.92" r="2.15" fill="#ffe600" stroke="#000" stroke-opacity="0.6" stroke-width="0.45"/>
<circle cx="614.55" cy="218.31" r="2.15" fill="#ffe600" stroke="#000" stroke-opacity="0.6" stroke-width="0.45"/>
<circle cx="623.61" cy="235.08" r="2.15" fill="#ffe600" stroke="#000" stroke-opacity="0.6" stroke-width="0.45"/>
<circle cx="632.67" cy="244.01" r="2.15" fill="#ffe600" stroke="#000" stroke-opacity="0.6" stroke-width="0.45"/>
<circle cx="641.73" cy="270.6" r="2.15" fill="#ffe600" stroke="#000" stroke-opacity="0.6" stroke-width="0.45"/>
<circle cx="650.79" cy="305" r="2.15" fill="#ffe600" stroke="#000" stroke-opacity="0.6" stroke-width="0.45"/>
<circle cx="659.85" cy="322.3" r="2.15" fill="#ffe600" stroke="#000" stroke-opacity="0.6" stroke-width="0.45"/>
<circle cx="388.03" cy="91.98" r="2.15" fill="#ff4700" stroke="#000" stroke-opacity="0.6" stroke-width="0.45"/>
<circle cx="397.09" cy="91.98" r="2.15" fill="#ff4700" stroke="#000" stroke-opacity="0.6" stroke-width="0.45"/>
<circle cx="406.15" cy="91.98" r="2.15" fill="#ff4700" stroke="#000" stroke-opacity="0.6" stroke-width="0.45"/>
<circle cx="415.21" cy="91.98" r="2.15" fill="#ff4700" stroke="#000" stroke-opacity="0.6" stroke-width="0.45"/>
<circle cx="424.27" cy="91.98" r="2.15" fill="#ff4700" stroke="#000" stroke-opacity="0.6" stroke-width="0.45"/>
<circle cx="433.33" cy="91.99" r="2.15" fill="#ff4700" stroke="#000" stroke-opacity="0.6" stroke-width="0.45"/>
<circle cx="442.39" cy="92.01" r="2.15" fill="#ff4700" stroke="#000" stroke-opacity="0.6" stroke-width="0.45"/>
<circle cx="451.45" cy="92.12" r="2.15" fill="#ff4700" stroke="#000" stroke-opacity="0.6" stroke-width="0.45"/>
<circle cx="460.52" cy="92.45" r="2.15" fill="#ff4700" stroke="#000" stroke-opacity="0.6" stroke-width="0.45"/>
<circle cx="469.58" cy="93.26" r="2.15" fill="#ff4700" stroke="#000" stroke-opacity="0.6" stroke-width="0.45"/>
<circle cx="478.64" cy="94.95" r="2.15" fill="#ff4700" stroke="#000" stroke-opacity="0.6" stroke-width="0.45"/>
<circle cx="487.7" cy="97.84" r="2.15" fill="#ff4700" stroke="#000" stroke-opacity="0.6" stroke-width="0.45"/>
<circle cx="496.76" cy="102.02" r="2.15" fill="#ff4700" stroke="#000" stroke-opacity="0.6" stroke-width="0.45"/>
<circle cx="505.82" cy="107.28" r="2.15" fill="#ff4700" stroke="#000" stroke-opacity="0.6" stroke-width="0.45"/>
<circle cx="514.88" cy="113.95" r="2.15" fill="#ff4700" stroke="#000" stroke-opacity="0.6" stroke-width="0.45"/>
<circle cx="523.94" cy="121.02" r="2.15" fill="#ff4700" stroke="#000" stroke-opacity="0.6" stroke-width="0.45"/>
<circle cx="533" cy="128.19" r="2.15" fill="#ff4700" stroke="#000" stroke-opacity="0.6" stroke-width="0.45"/>
<circle cx="542.06" cy="135.87" r="2.15" fill="#ff4700" stroke="#000" stroke-opacity="0.6" stroke-width="0.45"/>
<circle cx="551.12" cy="144.84" r="2.15" fill="#ff4700" stroke="#000" stroke-opacity="0.6" stroke-width="0.45"/>
<circle cx="560.18" cy="154.81" r="2.15" fill="#ff4700" stroke="#000" stroke-opacity="0.6" stroke-width="0.45"/>
<circle cx="569.24" cy="163.75" r="2.15" fill="#ff4700" stroke="#000" stroke-opacity="0.6" stroke-width="0.45"/>
<circle cx="578.3" cy="175.59" r="2.15" fill="#ff4700" stroke="#000" stroke-opacity="0.6" stroke-width="0.45"/>
<circle cx="587.36" cy="187.39" r="2.15" fill="#ff4700" stroke="#000" stroke-opacity="0.6" stroke-width="0.45"/>
<circle cx="596.42" cy="199.43" r="2.15" fill="#ff4700" stroke="#000" stroke-opacity="0.6" stroke-width="0.45"/>
<circle cx="605.48" cy="211.57" r="2.15" fill="#ff4700" stroke="#000" stroke-opacity="0.6" stroke-width="0.45"/>
<circle cx="614.55" cy="221.96" r="2.15" fill="#ff4700" stroke="#000" stroke-opacity="0.6" stroke-width="0.45"/>
<circle cx="623.61" cy="240.21" r="2.15" fill="#ff4700" stroke="#000" stroke-opacity="0.6" stroke-width="0.45"/>
<circle cx="632.67" cy="246.47" r="2.15" fill="#ff4700" stroke="#000" stroke-opacity="0.6" stroke-width="0.45"/>
<circle cx="641.73" cy="277.61" r="2.15" fill="#ff4700" stroke="#000" stroke-opacity="0.6" stroke-width="0.45"/>
<circle cx="650.79" cy="305.1" r="2.15" fill="#ff4700" stroke="#000" stroke-opacity="0.6" stroke-width="0.45"/>
<circle cx="659.85" cy="322.3" r="2.15" fill="#ff4700" stroke="#000" stroke-opacity="0.6" stroke-width="0.45"/>
</g>
<rect x="383.5" y="24.5" width="299.0" height="312.0" fill="none" stroke="#000" stroke-opacity="0.6" stroke-width="1.0"/>
<line x1="380.9" y1="322.5" x2="383.5" y2="322.5" stroke="#000" stroke-opacity="0.6" stroke-width="1"/>
<text transform="translate(374.3,328.1) rotate(0.1)" font-size="12.7" text-anchor="end">10</text>
<text transform="translate(374.2,320.1) rotate(0.1)" font-size="8.6">0</text>
<line x1="380.9" y1="265.5" x2="383.5" y2="265.5" stroke="#000" stroke-opacity="0.6" stroke-width="1"/>
<text transform="translate(374.3,270.7) rotate(0.1)" font-size="12.7" text-anchor="end">10</text>
<text transform="translate(374.2,262.7) rotate(0.1)" font-size="8.6">1</text>
<line x1="380.9" y1="207.5" x2="383.5" y2="207.5" stroke="#000" stroke-opacity="0.6" stroke-width="1"/>
<text transform="translate(374.3,213.3) rotate(0.1)" font-size="12.7" text-anchor="end">10</text>
<text transform="translate(374.2,205.3) rotate(0.1)" font-size="8.6">2</text>
<line x1="380.9" y1="150.5" x2="383.5" y2="150.5" stroke="#000" stroke-opacity="0.6" stroke-width="1"/>
<text transform="translate(374.3,155.9) rotate(0.1)" font-size="12.7" text-anchor="end">10</text>
<text transform="translate(374.2,147.9) rotate(0.1)" font-size="8.6">3</text>
<line x1="380.9" y1="92.5" x2="383.5" y2="92.5" stroke="#000" stroke-opacity="0.6" stroke-width="1"/>
<text transform="translate(374.3,98.5) rotate(0.1)" font-size="12.7" text-anchor="end">10</text>
<text transform="translate(374.2,90.5) rotate(0.1)" font-size="8.6">4</text>
<line x1="380.9" y1="35.5" x2="383.5" y2="35.5" stroke="#000" stroke-opacity="0.6" stroke-width="1"/>
<text transform="translate(374.3,41.1) rotate(0.1)" font-size="12.7" text-anchor="end">10</text>
<text transform="translate(374.2,33.1) rotate(0.1)" font-size="8.6">5</text>
<line x1="382" y1="335.5" x2="383.5" y2="335.5" stroke="#000" stroke-opacity="0.6" stroke-width="0.8"/>
<line x1="382" y1="331.5" x2="383.5" y2="331.5" stroke="#000" stroke-opacity="0.6" stroke-width="0.8"/>
<line x1="382" y1="327.5" x2="383.5" y2="327.5" stroke="#000" stroke-opacity="0.6" stroke-width="0.8"/>
<line x1="382" y1="325.5" x2="383.5" y2="325.5" stroke="#000" stroke-opacity="0.6" stroke-width="0.8"/>
<line x1="382" y1="305.5" x2="383.5" y2="305.5" stroke="#000" stroke-opacity="0.6" stroke-width="0.8"/>
<line x1="382" y1="295.5" x2="383.5" y2="295.5" stroke="#000" stroke-opacity="0.6" stroke-width="0.8"/>
<line x1="382" y1="287.5" x2="383.5" y2="287.5" stroke="#000" stroke-opacity="0.6" stroke-width="0.8"/>
<line x1="382" y1="282.5" x2="383.5" y2="282.5" stroke="#000" stroke-opacity="0.6" stroke-width="0.8"/>
<line x1="382" y1="277.5" x2="383.5" y2="277.5" stroke="#000" stroke-opacity="0.6" stroke-width="0.8"/>
<line x1="382" y1="273.5" x2="383.5" y2="273.5" stroke="#000" stroke-opacity="0.6" stroke-width="0.8"/>
<line x1="382" y1="270.5" x2="383.5" y2="270.5" stroke="#000" stroke-opacity="0.6" stroke-width="0.8"/>
<line x1="382" y1="267.5" x2="383.5" y2="267.5" stroke="#000" stroke-opacity="0.6" stroke-width="0.8"/>
<line x1="382" y1="247.5" x2="383.5" y2="247.5" stroke="#000" stroke-opacity="0.6" stroke-width="0.8"/>
<line x1="382" y1="237.5" x2="383.5" y2="237.5" stroke="#000" stroke-opacity="0.6" stroke-width="0.8"/>
<line x1="382" y1="230.5" x2="383.5" y2="230.5" stroke="#000" stroke-opacity="0.6" stroke-width="0.8"/>
<line x1="382" y1="224.5" x2="383.5" y2="224.5" stroke="#000" stroke-opacity="0.6" stroke-width="0.8"/>
<line x1="382" y1="220.5" x2="383.5" y2="220.5" stroke="#000" stroke-opacity="0.6" stroke-width="0.8"/>
<line x1="382" y1="216.5" x2="383.5" y2="216.5" stroke="#000" stroke-opacity="0.6" stroke-width="0.8"/>
<line x1="382" y1="213.5" x2="383.5" y2="213.5" stroke="#000" stroke-opacity="0.6" stroke-width="0.8"/>
<line x1="382" y1="210.5" x2="383.5" y2="210.5" stroke="#000" stroke-opacity="0.6" stroke-width="0.8"/>
<line x1="382" y1="190.5" x2="383.5" y2="190.5" stroke="#000" stroke-opacity="0.6" stroke-width="0.8"/>
<line x1="382" y1="180.5" x2="383.5" y2="180.5" stroke="#000" stroke-opacity="0.6" stroke-width="0.8"/>
<line x1="382" y1="173.5" x2="383.5" y2="173.5" stroke="#000" stroke-opacity="0.6" stroke-width="0.8"/>
<line x1="382" y1="167.5" x2="383.5" y2="167.5" stroke="#000" stroke-opacity="0.6" stroke-width="0.8"/>
<line x1="382" y1="162.5" x2="383.5" y2="162.5" stroke="#000" stroke-opacity="0.6" stroke-width="0.8"/>
<line x1="382" y1="159.5" x2="383.5" y2="159.5" stroke="#000" stroke-opacity="0.6" stroke-width="0.8"/>
<line x1="382" y1="155.5" x2="383.5" y2="155.5" stroke="#000" stroke-opacity="0.6" stroke-width="0.8"/>
<line x1="382" y1="152.5" x2="383.5" y2="152.5" stroke="#000" stroke-opacity="0.6" stroke-width="0.8"/>
<line x1="382" y1="132.5" x2="383.5" y2="132.5" stroke="#000" stroke-opacity="0.6" stroke-width="0.8"/>
<line x1="382" y1="122.5" x2="383.5" y2="122.5" stroke="#000" stroke-opacity="0.6" stroke-width="0.8"/>
<line x1="382" y1="115.5" x2="383.5" y2="115.5" stroke="#000" stroke-opacity="0.6" stroke-width="0.8"/>
<line x1="382" y1="110.5" x2="383.5" y2="110.5" stroke="#000" stroke-opacity="0.6" stroke-width="0.8"/>
<line x1="382" y1="105.5" x2="383.5" y2="105.5" stroke="#000" stroke-opacity="0.6" stroke-width="0.8"/>
<line x1="382" y1="101.5" x2="383.5" y2="101.5" stroke="#000" stroke-opacity="0.6" stroke-width="0.8"/>
<line x1="382" y1="98.5" x2="383.5" y2="98.5" stroke="#000" stroke-opacity="0.6" stroke-width="0.8"/>
<line x1="382" y1="95.5" x2="383.5" y2="95.5" stroke="#000" stroke-opacity="0.6" stroke-width="0.8"/>
<line x1="382" y1="75.5" x2="383.5" y2="75.5" stroke="#000" stroke-opacity="0.6" stroke-width="0.8"/>
<line x1="382" y1="65.5" x2="383.5" y2="65.5" stroke="#000" stroke-opacity="0.6" stroke-width="0.8"/>
<line x1="382" y1="58.5" x2="383.5" y2="58.5" stroke="#000" stroke-opacity="0.6" stroke-width="0.8"/>
<line x1="382" y1="52.5" x2="383.5" y2="52.5" stroke="#000" stroke-opacity="0.6" stroke-width="0.8"/>
<line x1="382" y1="48.5" x2="383.5" y2="48.5" stroke="#000" stroke-opacity="0.6" stroke-width="0.8"/>
<line x1="382" y1="44.5" x2="383.5" y2="44.5" stroke="#000" stroke-opacity="0.6" stroke-width="0.8"/>
<line x1="382" y1="40.5" x2="383.5" y2="40.5" stroke="#000" stroke-opacity="0.6" stroke-width="0.8"/>
<line x1="382" y1="38.5" x2="383.5" y2="38.5" stroke="#000" stroke-opacity="0.6" stroke-width="0.8"/>
<line x1="383.5" y1="336.5" x2="383.5" y2="339.1" stroke="#000" stroke-opacity="0.6" stroke-width="1"/>
<text transform="translate(383.5,350.5) rotate(0.1)" font-size="12.7" text-anchor="middle">−2</text>
<line x1="428.5" y1="336.5" x2="428.5" y2="339.1" stroke="#000" stroke-opacity="0.6" stroke-width="1"/>
<text transform="translate(428.8,350.5) rotate(0.1)" font-size="12.7" text-anchor="middle">−1</text>
<line x1="474.5" y1="336.5" x2="474.5" y2="339.1" stroke="#000" stroke-opacity="0.6" stroke-width="1"/>
<text transform="translate(474.11,350.5) rotate(0.1)" font-size="12.7" text-anchor="middle">0</text>
<line x1="519.5" y1="336.5" x2="519.5" y2="339.1" stroke="#000" stroke-opacity="0.6" stroke-width="1"/>
<text transform="translate(519.41,350.5) rotate(0.1)" font-size="12.7" text-anchor="middle">1</text>
<line x1="564.5" y1="336.5" x2="564.5" y2="339.1" stroke="#000" stroke-opacity="0.6" stroke-width="1"/>
<text transform="translate(564.71,350.5) rotate(0.1)" font-size="12.7" text-anchor="middle">2</text>
<line x1="610.5" y1="336.5" x2="610.5" y2="339.1" stroke="#000" stroke-opacity="0.6" stroke-width="1"/>
<text transform="translate(610.02,350.5) rotate(0.1)" font-size="12.7" text-anchor="middle">3</text>
<line x1="655.5" y1="336.5" x2="655.5" y2="339.1" stroke="#000" stroke-opacity="0.6" stroke-width="1"/>
<text transform="translate(655.32,350.5) rotate(0.1)" font-size="12.7" text-anchor="middle">4</text>
<text transform="translate(533,365.5) rotate(0.1)" font-size="13.9" text-anchor="middle">Magnitude</text>
<text transform="translate(353.5,14.5) rotate(0.1)" font-size="18.3">(b)</text>
<rect x="589.2" y="35.6" width="25.5" height="9.0" fill="#000080" stroke="#555" stroke-width="0.5"/>
<text transform="translate(625.5,44.7) rotate(0.1)" font-size="12.5">TH = 0.0</text>
<rect x="589.2" y="53.55" width="25.5" height="9.0" fill="#0028ff" stroke="#555" stroke-width="0.5"/>
<text transform="translate(625.5,62.65) rotate(0.1)" font-size="12.5">TH = 0.1</text>
<rect x="589.2" y="71.5" width="25.5" height="9.0" fill="#00d4ff" stroke="#555" stroke-width="0.5"/>
<text transform="translate(625.5,80.6) rotate(0.1)" font-size="12.5">TH = 0.3</text>
<rect x="589.2" y="89.45" width="25.5" height="9.0" fill="#7dff7a" stroke="#555" stroke-width="0.5"/>
<text transform="translate(625.5,98.55) rotate(0.1)" font-size="12.5">TH = 0.5</text>
<rect x="589.2" y="107.4" width="25.5" height="9.0" fill="#ffe600" stroke="#555" stroke-width="0.5"/>
<text transform="translate(625.5,116.5) rotate(0.1)" font-size="12.5">TH = 0.7</text>
<rect x="589.2" y="125.35" width="25.5" height="9.0" fill="#ff4700" stroke="#555" stroke-width="0.5"/>
<text transform="translate(625.5,134.45) rotate(0.1)" font-size="12.5">TH = 0.9</text>
</svg></body></html>
